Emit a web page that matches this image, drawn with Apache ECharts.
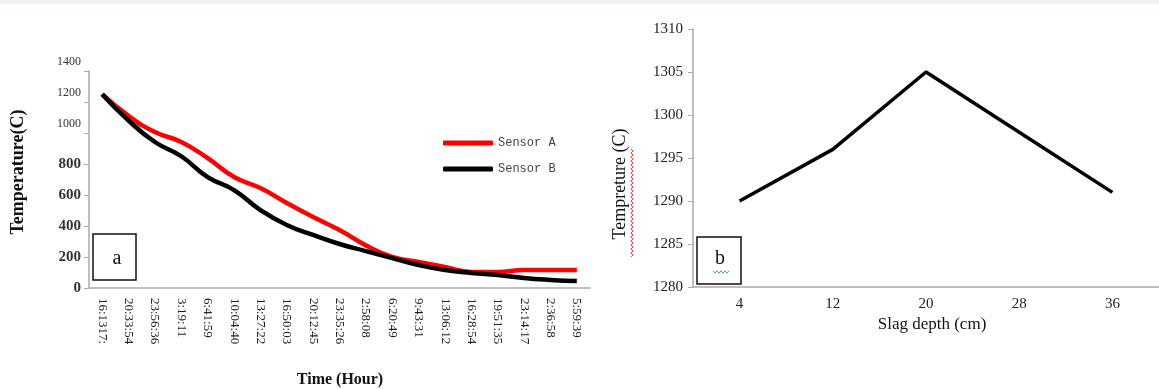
<!DOCTYPE html>
<html>
<head>
<meta charset="utf-8">
<script src="https://cdn.jsdelivr.net/npm/echarts@6/dist/echarts.min.js"></script>
<style>
html, body { margin: 0; padding: 0; background: #fff; }
#main { width: 1159px; height: 389px; }
</style>
</head>
<body>
<div id="main"></div>
<script>
// panel a: cooling curves
var timeLabels = ['16:1317:', '20:33:54', '23:56:36', '3:19:11', '6:41:59', '10:04:40', '13:27:22',
    '16:50:03', '20:12:45', '23:35:26', '2:58:08', '6:20:49', '9:43:31', '13:06:12', '16:28:54',
    '19:51:35', '23:14:17', '2:36:58', '5:59:39'];
var sensorA = [1250, 1110, 1006, 942, 838, 716, 645, 548, 458, 374, 275, 200, 168, 135, 103, 103, 116, 116, 116];
var sensorB = [1250, 1080, 942, 850, 716, 632, 503, 406, 342, 284, 238, 193, 148, 116, 97, 84, 64, 52, 45];

// panel b: temperature vs slag depth
var depthLabels = ['4', '12', '20', '28', '36'];
var depthTemp = [1290, 1296, 1305, 1298, 1291];

var serif = 'Liberation Serif';

function wavy(x0, y0, len, vertical) {
    var pts = [];
    for (var i = 0; i <= len; i += 2) {
        var off = (i / 2) % 2 === 0 ? -1.2 : 1.2;
        pts.push(vertical ? [x0 + off, y0 - i] : [x0 + i, y0 + off]);
    }
    return pts;
}

var chart = echarts.init(document.getElementById('main'));
var option = {
    backgroundColor: '#fff',
    animation: false,
    grid: [
        { left: 89, top: 71, width: 501, height: 217 },
        { left: 693, top: 29, right: 0, height: 258 }
    ],
    legend: {
        data: ['Sensor A', 'Sensor B'],
        orient: 'vertical',
        left: 438,
        top: 132,
        itemWidth: 50,
        itemHeight: 5,
        itemGap: 14,
        icon: 'roundRect',
        textStyle: { fontFamily: 'Liberation Mono', fontSize: 12, color: '#444' }
    },
    xAxis: [
        {
            type: 'category', gridIndex: 0, data: timeLabels, boundaryGap: true,
            axisLine: { lineStyle: { color: '#aaa', width: 1.5 } },
            axisTick: { show: false },
            axisLabel: { rotate: -90, interval: 0, margin: 10, fontFamily: serif, fontSize: 13, color: '#222' }
        },
        {
            type: 'category', gridIndex: 1, data: depthLabels, boundaryGap: true,
            axisLine: { lineStyle: { color: '#aaa', width: 1.5 } },
            axisTick: { show: false },
            axisLabel: { margin: 10, fontFamily: serif, fontSize: 15, color: '#222' }
        }
    ],
    yAxis: [
        {
            type: 'value', gridIndex: 0, min: 0, max: 1400, interval: 200,
            splitLine: { show: false },
            axisLine: { show: true, lineStyle: { color: '#aaa', width: 1.5 } },
            axisTick: { show: true, length: 5, lineStyle: { color: '#aaa' } },
            axisLabel: {
                margin: 8,
                formatter: function (v) { return v >= 1000 ? '{s|' + v + '}' : '{n|' + v + '}'; },
                rich: {
                    s: { fontFamily: serif, fontSize: 12, color: '#333', padding: [0, 0, 18, 0] },
                    n: { fontFamily: serif, fontSize: 15, fontWeight: 'bold', color: '#333' }
                }
            }
        },
        {
            type: 'value', gridIndex: 1, min: 1280, max: 1310, interval: 5,
            splitLine: { show: false },
            axisLine: { show: true, lineStyle: { color: '#aaa', width: 1.5 } },
            axisTick: { show: true, length: 5, lineStyle: { color: '#aaa' } },
            axisLabel: { margin: 10, fontFamily: serif, fontSize: 15, color: '#222', formatter: function (v) { return String(v); } }
        }
    ],
    series: [
        {
            name: 'Sensor A', type: 'line', xAxisIndex: 0, yAxisIndex: 0,
            data: sensorA, smooth: true, symbol: 'none',
            lineStyle: { color: '#ff0000', width: 4.5 }, itemStyle: { color: '#ff0000' }
        },
        {
            name: 'Sensor B', type: 'line', xAxisIndex: 0, yAxisIndex: 0,
            data: sensorB, smooth: true, symbol: 'none',
            lineStyle: { color: '#000', width: 4.5 }, itemStyle: { color: '#000' }
        },
        {
            name: 'depth', type: 'line', xAxisIndex: 1, yAxisIndex: 1,
            data: depthTemp, symbol: 'none',
            lineStyle: { color: '#000', width: 3.5 }, itemStyle: { color: '#000' }
        }
    ],
    graphic: [
        { type: 'rect', shape: { x: 0, y: 0, width: 1159, height: 4 }, style: { fill: '#f1f1ed' } },
        // panel labels
        { type: 'rect', shape: { x: 93, y: 234, width: 43, height: 46 }, style: { fill: '#fff', stroke: '#111', lineWidth: 1.5 } },
        { type: 'text', x: 117, y: 259, style: { text: 'a', font: '20px ' + serif, fill: '#111', align: 'center', verticalAlign: 'middle' } },
        { type: 'rect', shape: { x: 697, y: 237, width: 44, height: 47 }, style: { fill: '#fff', stroke: '#111', lineWidth: 1.5 } },
        { type: 'text', x: 720, y: 259, style: { text: 'b', font: '20px ' + serif, fill: '#111', align: 'center', verticalAlign: 'middle' } },
        { type: 'polyline', shape: { points: wavy(713, 272, 16, false) }, style: { stroke: '#4caf50', lineWidth: 1, fill: null } },
        // axis titles
        { type: 'text', x: 18, y: 172, rotation: Math.PI / 2, style: { text: 'Temperature(C)', font: 'bold 18px ' + serif, fill: '#111', align: 'center', verticalAlign: 'middle' } },
        { type: 'text', x: 340, y: 380, style: { text: 'Time (Hour)', font: 'bold 16px ' + serif, fill: '#111', align: 'center', verticalAlign: 'middle' } },
        { type: 'text', x: 620, y: 184, rotation: Math.PI / 2, style: { text: 'Tempreture (C)', font: '18px ' + serif, fill: '#111', align: 'center', verticalAlign: 'middle' } },
        { type: 'polyline', shape: { points: wavy(632, 257, 108, true) }, style: { stroke: '#ff3b3b', lineWidth: 1, fill: null } },
        { type: 'text', x: 932, y: 325, style: { text: 'Slag depth (cm)', font: '17px ' + serif, fill: '#111', align: 'center', verticalAlign: 'middle' } }
    ]
};
chart.setOption(option);
</script>
</body>
</html>
